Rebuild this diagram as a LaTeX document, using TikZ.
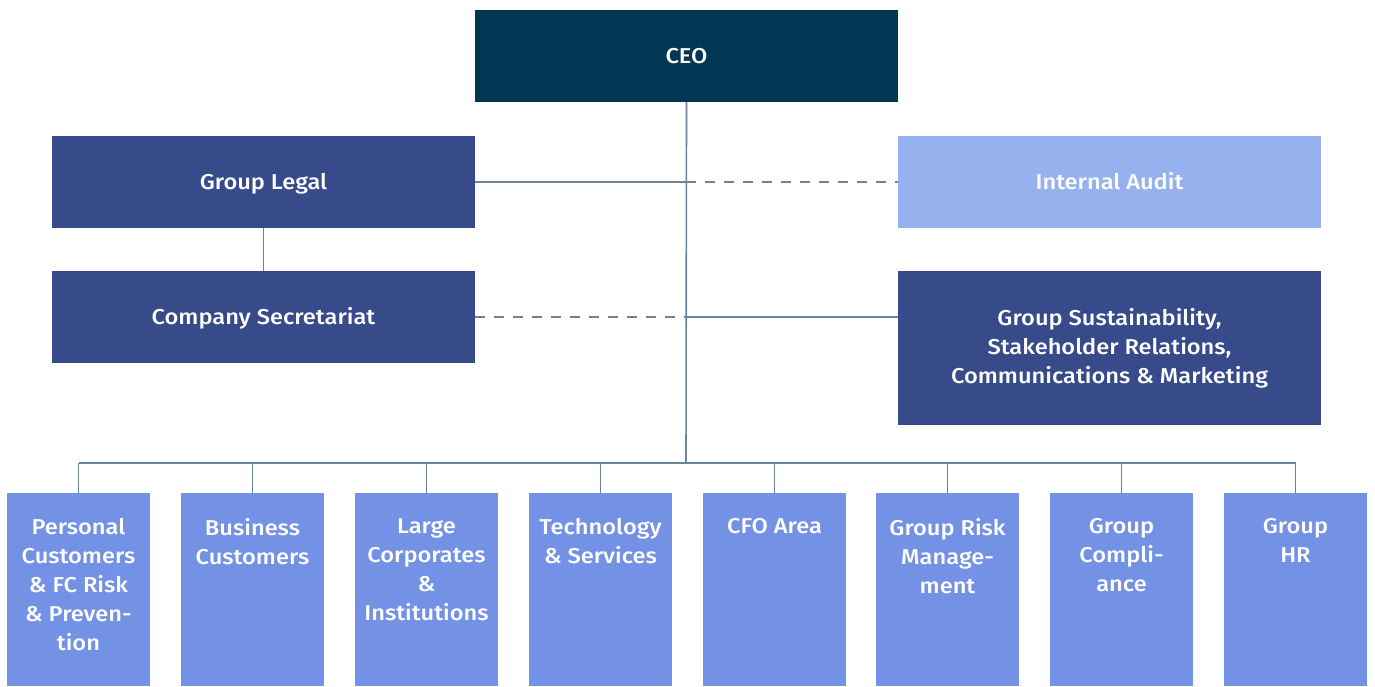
\documentclass[tikz,border=0pt]{standalone}
\usepackage{fontspec}
\setmainfont{Fira Sans}[UprightFont={* Medium}, FakeStretch=1.1]
\definecolor{ceoC}{HTML}{023652}
\definecolor{darkC}{HTML}{374A8A}
\definecolor{lightC}{HTML}{96B2EE}
\definecolor{midC}{HTML}{7492E5}
\definecolor{lineC}{HTML}{6A8596}
\tikzset{
  box/.style={rectangle, inner sep=0pt, draw=none, text=white, align=center, font=\fontsize{21.5}{29}\selectfont},
  topbox/.style={box, minimum width=423pt, minimum height=92pt},
  oneline/.style={text height=14.8pt, text depth=0pt},
  unit/.style={box, minimum width=143pt, minimum height=193pt, fill=midC},
  unittext/.style={anchor=north, inner sep=0pt, text=white, align=center, font=\fontsize{21.5}{29}\selectfont},
  conn/.style={draw=lineC, line width=1.6pt},
  dconn/.style={conn, dash pattern=on 10pt off 9pt},
}
\begin{document}
\begin{tikzpicture}[x=1pt,y=-1pt]
\useasboundingbox (0,0) rectangle (1375,686);
\node[topbox, oneline, fill=ceoC] (ceo) at (686.5,56) {CEO};
\node[topbox, oneline, fill=darkC] (legal) at (263.5,182) {Group Legal};
\node[topbox, oneline, fill=darkC] (sec) at (263.5,317) {Company Secretariat};
\node[topbox, oneline, fill=lightC] (audit) at (1109.5,182) {Internal Audit};
\node[topbox, fill=darkC, minimum height=154pt] (sust) at (1109.5,348) {Group Sustainability,\\Stakeholder Relations,\\Communications \& Marketing};
\coordinate (j1) at (686,182);
\coordinate (j2) at (686,317);
\coordinate (bus) at (686,463);
\coordinate (busL) at (78.5,463);
\coordinate (busR) at (1295.5,463);
\foreach \i/\x/\t in {1/78.5/{Personal\\Customers\\\& FC Risk\\\& Preven-\\tion},
  2/252.5/{Business\\Customers},
  3/426.5/{Large\\Corporates\\\&\\Institutions},
  4/600.5/{Technology\\\& Services},
  5/774.5/{CFO Area},
  6/947.5/{Group Risk\\Manage-\\ment},
  7/1121.5/{Group\\Compli-\\ance},
  8/1295.5/{Group\\HR}}{
  \node[unit] (u\i) at (\x,589.5) {};
  \node[unittext] (t\i) at (\x,518.5) {\t};
  \draw[conn] (\x,463) -- (u\i.north);
}
\draw[conn] (ceo.south) -- (bus);
\draw[conn] (busL) -- (busR);
\draw[conn] (legal.east) -- (j1);
\draw[dconn] (j1) -- (audit.west);
\draw[dconn] (sec.east) -- (j2);
\draw[conn] (j2) -- (sec.east -| sust.west);
\draw[conn] (legal.south) -- (sec.north);
\end{tikzpicture}
\end{document}
